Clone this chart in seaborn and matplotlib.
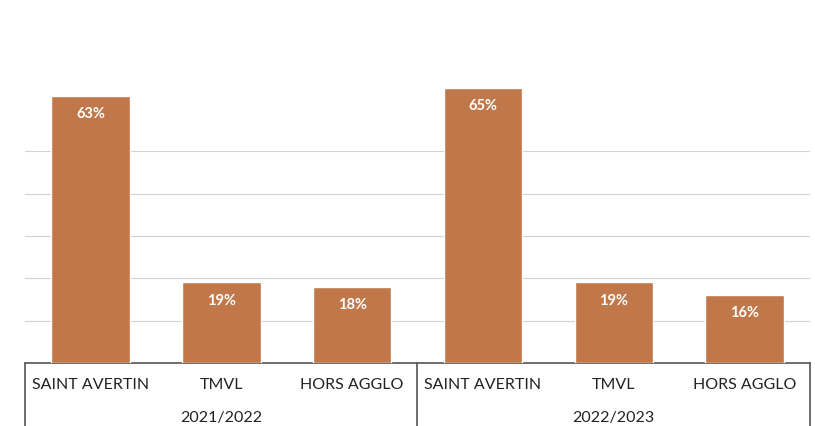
import pandas as pd
import matplotlib.pyplot as plt
import seaborn as sns

# Données
periodes = ['2021/2022', '2022/2023']
lieux = ['SAINT AVERTIN', 'TMVL', 'HORS AGGLO']
parts_2021 = [63, 19, 18]
parts_2022 = [65, 19, 16]

rows = []
for periode, parts in zip(periodes, [parts_2021, parts_2022]):
    for lieu, part in zip(lieux, parts):
        rows.append({'periode': periode, 'lieu': lieu, 'part': part, 'cle': f'{periode} {lieu}'})
df = pd.DataFrame(rows)

sns.set_style('white')
plt.rcParams['font.family'] = ['Lato', 'DejaVu Sans']

fig = plt.figure(figsize=(8.15, 4.27), dpi=100)
ax = fig.add_axes([25 / 815, 63 / 427, 785 / 815, 339 / 427])

couleur = '#c0784b'
sns.barplot(data=df, x='cle', y='part', order=list(df['cle']), color=couleur,
            saturation=1, width=0.6, ax=ax, zorder=3)

ax.set_ylim(0, 80)
ax.set_xlim(-0.5, len(df) - 0.5)
ax.set_yticks(range(10, 60, 10))
ax.yaxis.grid(True, color='#d2d2d2', lw=0.8, zorder=0)
ax.set_yticklabels([])
ax.tick_params(axis='y', length=0)
ax.set_xlabel('')
ax.set_ylabel('')
for s in ['left', 'right', 'top']:
    ax.spines[s].set_visible(False)
ax.spines['bottom'].set_color('#555555')
ax.spines['bottom'].set_linewidth(1.2)

# Étiquettes des barres
for i, v in enumerate(df['part']):
    ax.text(i, v - 2.4, f'{v}%', ha='center', va='top', color='white',
            fontsize=10.5, fontweight='bold', zorder=4)

# Axe à deux niveaux
ax.set_xticks(range(len(df)))
ax.set_xticklabels(df['lieu'], fontsize=11.5, color='#222222')
ax.tick_params(axis='x', length=0, pad=10)

trans = ax.get_xaxis_transform()
n = len(lieux)
for k in range(len(periodes) + 1):
    ax.plot([k * n - 0.5, k * n - 0.5], [0, -0.2], transform=trans,
            color='#555555', lw=1.2, clip_on=False)
for k, periode in enumerate(periodes):
    ax.text(k * n + (n - 1) / 2, -0.16, periode, transform=trans, ha='center',
            va='center', fontsize=11.5, color='#222222')

plt.savefig('out.png', dpi=100)
plt.close()
